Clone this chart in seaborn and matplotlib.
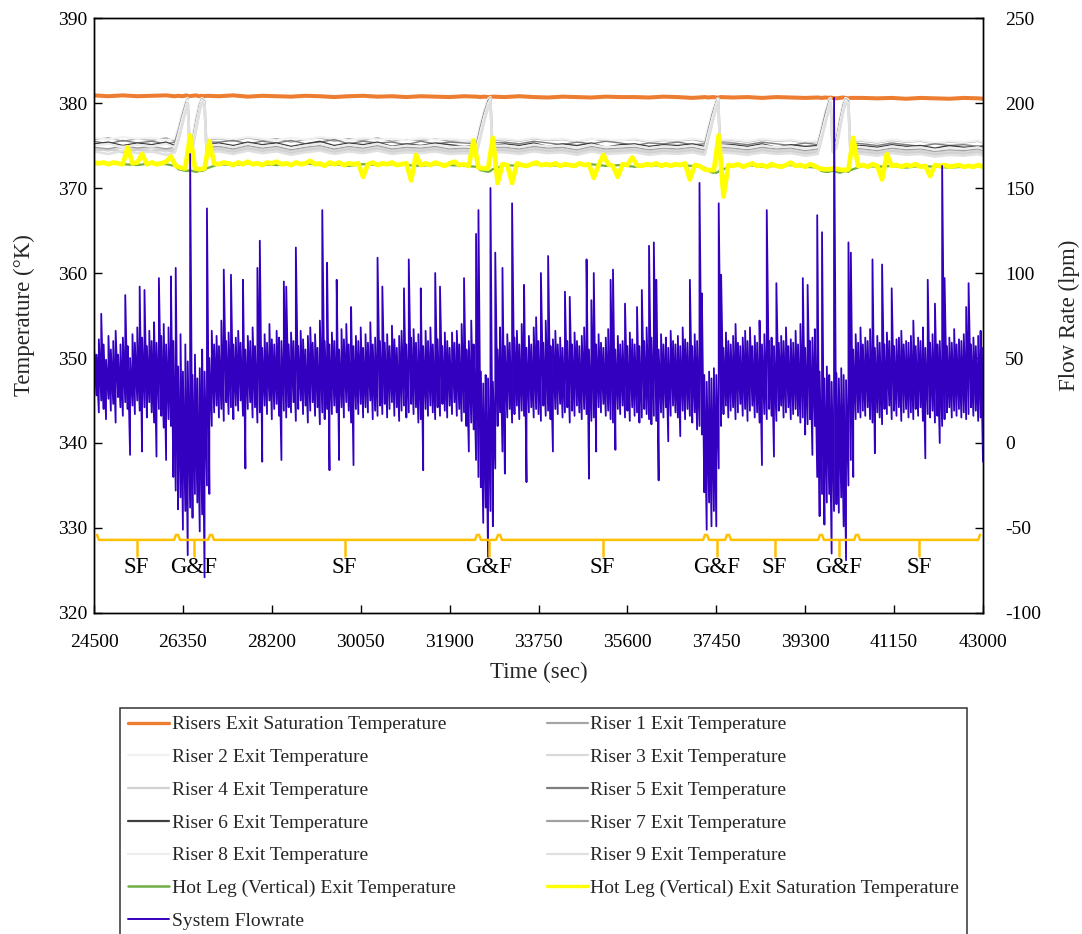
import numpy as np
import matplotlib
matplotlib.use("Agg")
import matplotlib.pyplot as plt
from matplotlib.lines import Line2D
import seaborn as sns

# ---------------------------------------------------------------- data
# sampling times (s)
t_flow = np.arange(24500, 43001, 50)
t_hotleg = np.arange(24500, 43001, 100)
t_temp = np.array([
    24500, 24800, 25100, 25400, 25700, 26000, 26180,
    26260, 26340, 26420, 26450, 26490, 26550, 26620, 26690, 26740, 26800, 26840,
    27100, 27400, 27700, 28000, 28300, 28600, 28900, 29200, 29500, 29800,
    30100, 30400, 30700, 31000, 31300, 31600, 31900, 32200, 32460,
    32540, 32620, 32700, 32750, 32790,
    33050, 33350, 33650, 33950, 34250, 34550, 34850, 35150, 35450, 35750,
    36050, 36350, 36650, 36950, 37210,
    37290, 37370, 37450, 37490, 37530,
    37800, 38100, 38400, 38700, 39000, 39300, 39560,
    39640, 39720, 39800, 39830, 39870, 39950, 40020, 40090, 40140, 40200, 40240,
    40500, 40800, 41100, 41400, 41700, 42000, 42300, 42600, 42900, 43000])

# system flow rate (lpm): highest and lowest reading in each 50 s window
flow_hi = [
    56, 52, 61, 76, 58, 49, 63, 55, 60, 66, 52, 58, 62, 87, 57, 50, 64, 59, 68, 92,
    62, 90, 57, 66, 60, 71, 59, 97, 63, 70, 58, 68, 98, 60, 103, 45, 64, 42, 58, 48,
    170, 40, 52, 38, 44, 55, 42, 138, 50, 66, 58, 63, 57, 72, 102, 60, 65, 99, 58, 62,
    66, 59, 96, 55, 63, 60, 68, 57, 103, 119, 56, 64, 59, 70, 61, 58, 66, 62, 60, 95,
    92, 58, 65, 60, 115, 57, 66, 61, 55, 63, 68, 59, 64, 56, 72, 137, 60, 106, 58, 65,
    60, 96, 55, 67, 61, 70, 58, 80, 57, 63, 60, 68, 56, 64, 59, 71, 58, 62, 109, 60,
    92, 59, 64, 57, 69, 61, 56, 63, 66, 91, 58, 108, 62, 67, 59, 64, 91, 57, 66, 60,
    68, 58, 100, 61, 92, 57, 65, 60, 56, 65, 59, 66, 58, 70, 97, 55, 60, 72, 58, 123,
    137, 42, 35, 40, 38, 150, 36, 112, 55, 68, 103, 57, 64, 59, 141, 62, 66, 58, 70, 93,
    56, 63, 58, 68, 74, 60, 100, 59, 72, 110, 57, 61, 66, 58, 62, 56, 89, 60, 86, 58,
    65, 60, 57, 63, 68, 108, 55, 84, 100, 58, 64, 59, 56, 62, 67, 96, 102, 55, 63, 58,
    60, 82, 57, 65, 61, 58, 80, 57, 90, 60, 68, 116, 62, 118, 96, 55, 64, 58, 62, 56,
    66, 60, 58, 63, 57, 68, 61, 59, 96, 57, 64, 60, 153, 88, 40, 36, 42, 38, 44, 40,
    141, 99, 56, 65, 60, 58, 63, 70, 59, 57, 62, 66, 60, 68, 57, 63, 59, 72, 58, 64,
    137, 60, 62, 57, 94, 59, 63, 60, 68, 57, 61, 59, 66, 58, 70, 97, 56, 93, 60, 62,
    67, 134, 42, 124, 38, 45, 40, 36, 203, 41, 38, 44, 40, 37, 118, 112, 55, 64, 59, 68,
    58, 62, 60, 67, 108, 56, 63, 59, 105, 58, 65, 60, 91, 57, 61, 62, 66, 58, 60, 59,
    63, 72, 57, 62, 60, 68, 56, 96, 59, 64, 82, 58, 60, 163, 97, 57, 62, 59, 67, 58,
    61, 60, 64, 80, 94, 58, 62, 57, 63, 66, 56]
flow_lo = [
    22, 28, 18, 25, 20, 14, 26, 19, 23, 12, 27, 21, 16, 24, 20, -7, 22, 17, 25, 19,
    -5, 21, 15, 24, 18, 12, -8, 20, 16, 9, -10, 14, 10, -20, -28, -39, -32, -51, -40, -66,
    -38, -44, -30, -35, -52, -42, -79, -25, -30, 10, 18, 22, 15, 20, 13, 24, 17, 21, 14, 22,
    19, 25, 16, -15, 20, 24, 15, 21, 12, 18, -11, 22, 17, 25, 14, 20, 23, 16, -10, 19,
    15, 21, 18, 24, 13, 20, 25, 17, 22, 12, 19, 24, 16, 21, 11, 18, 14, 20, -16, 17,
    22, 18, -10, 21, 15, 24, 19, 12, -13, 20, 17, 23, 15, 21, 18, 25, 14, 19, 16, 22,
    17, 23, 15, 20, 24, 16, 21, 13, 19, 22, 15, 18, 23, 17, 21, 12, 14, -16, 20, 16,
    22, 18, 14, 21, 16, 23, 19, 15, 22, 17, 24, 16, 20, 13, 18, 10, -5, 12, 8, -10,
    -20, -26, -47, -38, -67, -40, -49, -15, 10, 18, -5, -18, 15, 20, 12, 17, 22, 14, 19, 16,
    -23, 18, 21, 15, 20, 17, 13, 22, 16, 19, 14, -5, 20, 17, 23, 15, 18, 21, 12, 19,
    16, 22, 18, 14, 20, 17, -21, 13, 15, -5, 21, 18, 23, 16, 19, 14, 12, -4, 20, 17,
    22, 15, 19, 13, 21, 16, 18, 12, 15, 20, 17, 14, 11, 16, 13, -22, 18, 15, 21, 1,
    16, 22, 18, 15, 4, 19, 14, 20, 16, 12, 18, 8, 10, 5, -29, -51, -35, -49, -40, -49,
    -15, 10, 17, 22, 15, 19, 21, 14, 18, 23, 16, 20, 13, 19, 22, 15, 18, 12, -13, 17,
    14, 20, 16, -8, 13, 19, 22, 15, 18, 21, 14, 17, 20, 16, 12, 15, 5, 11, 14, -7,
    10, -20, -43, -30, -48, -35, -30, -65, -40, -36, -41, -32, -49, -69, -25, -10, -20, 14, 18, 15,
    19, 16, 21, 14, 12, -6, 18, 15, 11, 20, 17, 22, 14, 19, 16, 21, 13, 18, 20, 15,
    18, 14, 20, 16, 21, 13, -9, 17, 15, 19, 12, 16, 0, 10, 14, 18, 21, 15, 19, 16,
    20, 15, 18, 14, 17, 21, 16, 19, 13, 15, -11]

# hot leg (vertical) exit saturation temperature (K)
hotleg_sat = [
    373.0, 372.9, 373.0, 372.8, 373.0, 372.9, 372.8, 374.8, 372.9, 373.0,
    374.0, 372.8, 373.0, 372.8, 372.9, 373.1, 373.7, 372.6, 372.4, 372.3,
    376.2, 372.3, 372.2, 372.3, 375.5, 372.9, 372.8, 373.0, 372.9, 372.7,
    373.0, 372.8, 373.1, 372.8, 372.9, 372.7, 373.0, 372.9, 373.1, 372.8,
    372.9, 372.7, 373.0, 372.8, 372.9, 373.2, 372.8, 372.9, 372.6, 373.0,
    372.8, 373.0, 372.7, 372.9, 372.8, 372.9, 371.3, 372.8, 373.0, 372.7,
    372.9, 372.8, 373.0, 372.7, 372.8, 372.9, 370.9, 373.9, 372.7, 372.9,
    372.7, 373.0, 372.8, 372.6, 372.9, 373.1, 372.7, 372.8, 372.6, 375.6,
    372.4, 372.3, 372.3, 375.9, 370.6, 372.8, 372.7, 370.6, 372.9, 372.7,
    372.6, 372.8, 373.0, 372.7, 372.8, 372.7, 372.9, 372.6, 372.8, 372.7,
    372.6, 372.9, 372.7, 372.8, 371.2, 372.7, 373.9, 372.8, 372.6, 371.3,
    372.8, 372.7, 373.6, 372.7, 372.6, 372.8, 372.7, 372.9, 372.6, 372.8,
    372.6, 372.8, 372.7, 372.9, 371.0, 372.7, 372.6, 372.2, 372.1, 372.1,
    376.2, 369.0, 372.7, 372.6, 372.8, 372.5, 372.7, 372.9, 372.6, 372.7,
    372.5, 372.8, 372.6, 372.5, 372.7, 373.0, 372.6, 372.7, 372.5, 372.8,
    372.6, 372.3, 372.2, 372.2, 372.3, 372.2, 372.1, 372.2, 375.9, 372.6,
    372.7, 372.5, 372.8, 372.6, 371.0, 374.0, 372.6, 372.7, 372.5, 372.7,
    372.6, 372.8, 372.5, 372.6, 371.4, 372.7, 372.6, 372.7, 372.5, 372.6,
    372.7, 372.5, 372.6, 372.5, 372.7, 372.5]

# hot leg (vertical) exit temperature (K)
hotleg_exit = [
    372.8, 372.9, 372.8, 372.7, 372.9, 372.8, 372.6,
    372.2, 372.1, 372.0, 372.0, 372.1, 372.0, 371.9, 372.0, 372.0, 372.1, 372.3,
    372.8, 372.7, 372.9, 372.8, 372.7, 372.8, 372.9, 372.7, 372.8, 372.6,
    372.8, 372.7, 372.8, 372.7, 372.6, 372.8, 372.7, 372.6, 372.5,
    372.1, 372.0, 371.9, 372.0, 372.2,
    372.7, 372.6, 372.8, 372.7, 372.6, 372.7, 372.8, 372.6, 372.7, 372.5,
    372.7, 372.6, 372.7, 372.6, 372.4,
    372.0, 371.8, 371.8, 371.9, 372.1,
    372.6, 372.7, 372.5, 372.6, 372.7, 372.5, 372.4,
    372.0, 371.9, 371.9, 372.0, 372.0, 371.9, 371.8, 371.9, 372.0, 371.9, 372.1,
    372.6, 372.5, 372.6, 372.4, 372.6, 372.5, 372.4, 372.5, 372.6, 372.4]

# risers exit saturation temperature (K)
risers_sat = [
    380.9, 380.8, 380.9, 380.8, 380.85, 380.9, 380.8,
    380.85, 380.8, 380.9, 380.85, 380.8, 380.85, 380.9, 380.8, 380.85, 380.8, 380.85,
    380.8, 380.9, 380.75, 380.85, 380.8, 380.75, 380.85, 380.8, 380.7, 380.8,
    380.85, 380.75, 380.8, 380.7, 380.8, 380.75, 380.7, 380.8, 380.75,
    380.7, 380.75, 380.7, 380.7, 380.75,
    380.7, 380.8, 380.7, 380.65, 380.75, 380.7, 380.65, 380.75, 380.7, 380.7,
    380.65, 380.75, 380.7, 380.6, 380.7,
    380.65, 380.7, 380.65, 380.6, 380.7,
    380.65, 380.7, 380.6, 380.7, 380.65, 380.6, 380.65,
    380.6, 380.65, 380.6, 380.65, 380.6, 380.55, 380.6, 380.65, 380.6, 380.55, 380.6,
    380.6, 380.55, 380.6, 380.5, 380.6, 380.55, 380.5, 380.6, 380.55, 380.5]

# riser exit temperatures (K)
riser1 = [
    375.7, 375.9, 375.5, 375.8, 375.6, 375.9, 375.5,
    377.1, 378.9, 380.3, 380.6, 375.6, 376.0, 378.1, 379.9, 380.6, 380.3, 375.6,
    375.8, 375.5, 375.9, 375.6, 375.8, 375.4, 375.7, 375.9, 375.5, 375.8,
    375.6, 375.9, 375.5, 375.7, 375.6, 375.8, 375.5, 375.6, 375.5,
    377.4, 379.1, 380.4, 380.6, 375.6,
    375.7, 375.5, 375.8, 375.6, 375.7, 375.4, 375.8, 375.5, 375.6, 375.7,
    375.4, 375.6, 375.5, 375.7, 375.4,
    377.3, 379.0, 380.3, 380.6, 375.5,
    375.6, 375.4, 375.7, 375.5, 375.6, 375.3, 375.5,
    377.2, 379.0, 380.4, 380.6, 375.6, 376.1, 378.2, 380.0, 380.6, 380.3, 375.5,
    375.5, 375.3, 375.6, 375.4, 375.5, 375.2, 375.4, 375.3, 375.5, 375.3]
riser2 = [
    375.9, 375.7, 376.0, 375.8, 375.9, 375.6, 375.8,
    377.3, 379.1, 380.4, 380.6, 375.8, 376.2, 378.3, 380.0, 380.6, 380.4, 375.8,
    375.9, 375.7, 376.0, 375.8, 375.6, 375.9, 375.7, 376.0, 375.8, 375.6,
    375.9, 375.7, 375.8, 375.6, 375.9, 375.7, 375.8, 375.6, 375.7,
    377.5, 379.2, 380.5, 380.7, 375.8,
    375.8, 375.6, 375.9, 375.7, 375.8, 375.5, 375.8, 375.7, 375.6, 375.8,
    375.5, 375.7, 375.6, 375.8, 375.6,
    377.4, 379.1, 380.4, 380.6, 375.7,
    375.7, 375.5, 375.8, 375.6, 375.7, 375.4, 375.6,
    377.3, 379.1, 380.5, 380.6, 375.7, 376.2, 378.3, 380.1, 380.6, 380.4, 375.6,
    375.6, 375.4, 375.7, 375.5, 375.6, 375.3, 375.5, 375.4, 375.6, 375.4]
riser3 = [
    374.7, 374.4, 374.8, 374.5, 374.7, 374.3, 374.6,
    376.0, 377.9, 379.6, 380.2, 374.6, 375.0, 377.1, 379.1, 380.2, 379.9, 374.6,
    374.7, 374.4, 374.8, 374.5, 374.7, 374.3, 374.6, 374.8, 374.4, 374.7,
    374.5, 374.8, 374.4, 374.6, 374.5, 374.7, 374.4, 374.5, 374.4,
    376.3, 378.2, 379.8, 380.3, 374.6,
    374.6, 374.4, 374.7, 374.5, 374.6, 374.3, 374.7, 374.4, 374.5, 374.6,
    374.3, 374.5, 374.4, 374.6, 374.3,
    376.2, 378.1, 379.7, 380.3, 374.6,
    374.5, 374.3, 374.6, 374.4, 374.5, 374.2, 374.4,
    376.1, 378.0, 379.7, 380.2, 374.6, 375.1, 377.3, 379.2, 380.2, 379.8, 374.5,
    374.4, 374.2, 374.5, 374.3, 374.4, 374.1, 374.3, 374.2, 374.4, 374.2]
riser4 = [
    374.4, 374.6, 374.2, 374.5, 374.3, 374.6, 374.2,
    375.8, 377.7, 379.5, 380.1, 374.4, 374.8, 376.9, 379.0, 380.1, 379.8, 374.4,
    374.5, 374.2, 374.6, 374.3, 374.5, 374.1, 374.4, 374.6, 374.2, 374.5,
    374.3, 374.6, 374.2, 374.4, 374.3, 374.5, 374.2, 374.3, 374.2,
    376.1, 378.0, 379.7, 380.2, 374.4,
    374.4, 374.2, 374.5, 374.3, 374.4, 374.1, 374.5, 374.2, 374.3, 374.4,
    374.1, 374.3, 374.2, 374.4, 374.1,
    376.0, 377.9, 379.6, 380.2, 374.4,
    374.3, 374.1, 374.4, 374.2, 374.3, 374.0, 374.2,
    375.9, 377.8, 379.6, 380.1, 374.4, 374.9, 377.1, 379.1, 380.1, 379.7, 374.3,
    374.2, 374.0, 374.3, 374.1, 374.2, 373.9, 374.1, 374.0, 374.2, 374.0]
riser5 = [
    375.5, 375.2, 375.6, 375.3, 375.5, 375.2, 375.4,
    376.9, 378.7, 380.2, 380.5, 375.3, 375.7, 377.9, 379.7, 380.5, 380.2, 375.4,
    375.4, 375.6, 375.2, 375.5, 375.3, 375.6, 375.2, 375.4, 375.7, 375.2,
    375.5, 375.3, 375.4, 375.1, 375.5, 375.2, 375.4, 375.3, 375.2,
    377.2, 378.9, 380.3, 380.6, 375.3,
    375.4, 375.2, 375.5, 375.3, 375.1, 375.4, 375.2, 375.5, 375.3, 375.0,
    375.3, 375.2, 375.4, 375.1, 375.2,
    377.0, 378.8, 380.2, 380.6, 375.3,
    375.3, 375.1, 375.4, 375.2, 375.0, 375.3, 375.1,
    376.9, 378.8, 380.3, 380.5, 375.3, 375.8, 378.0, 379.8, 380.5, 380.2, 375.3,
    375.2, 375.0, 375.3, 375.1, 374.9, 375.2, 375.0, 375.1, 374.9, 375.0]
riser6 = [
    375.2, 375.4, 375.0, 375.3, 375.1, 375.4, 375.0,
    376.6, 378.4, 380.0, 380.4, 375.0, 375.4, 377.6, 379.5, 380.4, 380.1, 375.1,
    375.3, 375.0, 375.4, 375.1, 375.3, 374.9, 375.2, 375.5, 375.0, 375.3,
    375.1, 375.4, 374.9, 375.2, 375.0, 375.3, 375.1, 374.9, 375.0,
    376.9, 378.7, 380.1, 380.5, 375.0,
    375.2, 375.0, 375.3, 374.9, 375.2, 375.0, 375.3, 374.8, 375.1, 375.2,
    374.9, 375.1, 375.0, 375.2, 374.9,
    376.8, 378.6, 380.1, 380.5, 375.0,
    375.1, 374.9, 375.2, 374.8, 375.1, 374.9, 375.0,
    376.7, 378.5, 380.1, 380.4, 375.1, 375.6, 377.8, 379.6, 380.4, 380.0, 375.0,
    375.0, 374.8, 375.1, 374.9, 375.0, 374.7, 375.0, 374.8, 374.9, 374.8]
riser7 = [
    374.8, 374.6, 375.0, 374.7, 374.9, 374.6, 374.8,
    376.3, 378.1, 379.8, 380.3, 374.8, 375.2, 377.3, 379.3, 380.3, 380.0, 374.8,
    374.9, 374.6, 375.0, 374.7, 374.9, 374.5, 374.8, 375.0, 374.6, 374.9,
    374.7, 375.0, 374.6, 374.8, 374.7, 374.9, 374.6, 374.7, 374.6,
    376.6, 378.4, 379.9, 380.4, 374.8,
    374.8, 374.6, 374.9, 374.7, 374.8, 374.5, 374.9, 374.6, 374.7, 374.8,
    374.5, 374.7, 374.6, 374.8, 374.5,
    376.5, 378.3, 379.9, 380.4, 374.8,
    374.7, 374.5, 374.8, 374.6, 374.7, 374.4, 374.6,
    376.4, 378.2, 379.9, 380.3, 374.8, 375.3, 377.5, 379.4, 380.3, 379.9, 374.7,
    374.6, 374.4, 374.7, 374.5, 374.6, 374.3, 374.5, 374.4, 374.6, 374.4]
riser8 = [
    375.0, 375.2, 374.8, 375.1, 374.9, 375.2, 374.8,
    376.5, 378.3, 379.9, 380.4, 375.0, 375.3, 377.5, 379.4, 380.4, 380.1, 375.0,
    375.1, 374.8, 375.2, 374.9, 375.1, 374.7, 375.0, 375.2, 374.8, 375.1,
    374.9, 375.2, 374.8, 375.0, 374.9, 375.1, 374.8, 374.9, 374.8,
    376.7, 378.5, 380.0, 380.5, 375.0,
    375.0, 374.8, 375.1, 374.9, 375.0, 374.7, 375.1, 374.8, 374.9, 375.0,
    374.7, 374.9, 374.8, 375.0, 374.7,
    376.6, 378.4, 380.0, 380.5, 375.0,
    374.9, 374.7, 375.0, 374.8, 374.9, 374.6, 374.8,
    376.5, 378.3, 380.0, 380.4, 375.0, 375.4, 377.6, 379.5, 380.4, 380.0, 374.9,
    374.8, 374.6, 374.9, 374.7, 374.8, 374.5, 374.7, 374.6, 374.8, 374.6]
riser9 = [
    374.3, 374.0, 374.4, 374.1, 374.3, 373.9, 374.2,
    375.6, 377.5, 379.3, 380.0, 374.2, 374.6, 376.7, 378.8, 380.0, 379.7, 374.2,
    374.3, 374.0, 374.4, 374.1, 374.3, 373.9, 374.2, 374.4, 374.0, 374.3,
    374.1, 374.4, 374.0, 374.2, 374.1, 374.3, 374.0, 374.1, 374.0,
    375.9, 377.8, 379.5, 380.1, 374.2,
    374.2, 374.0, 374.3, 374.1, 374.2, 373.9, 374.3, 374.0, 374.1, 374.2,
    373.9, 374.1, 374.0, 374.2, 373.9,
    375.8, 377.7, 379.4, 380.1, 374.2,
    374.1, 373.9, 374.2, 374.0, 374.1, 373.8, 374.0,
    375.7, 377.6, 379.4, 380.0, 374.2, 374.7, 376.9, 378.9, 380.0, 379.6, 374.1,
    374.0, 373.8, 374.1, 373.9, 374.0, 373.7, 373.9, 373.8, 374.0, 373.8]

# operating periods: single-phase flow (SF) / geysering & flashing (G&F)
period_start = [24562, 26248, 26956, 32512, 32949, 37257, 37715, 39650, 40400]
period_end = [26206, 26914, 32470, 32907, 37215, 37673, 39609, 40358, 42938]
period_label = ["SF", "G&F", "SF", "G&F", "SF", "G&F", "SF", "G&F", "SF"]

riser_series = [riser1, riser2, riser3, riser4, riser5,
                riser6, riser7, riser8, riser9]
assert len(flow_hi) == len(t_flow) and len(flow_lo) == len(t_flow)
assert len(hotleg_sat) == len(t_hotleg)
for s in riser_series + [risers_sat, hotleg_exit]:
    assert len(s) == len(t_temp), len(s)

# flow trace: each window drawn as a stroke from its low to its high reading
flow_t = np.repeat(t_flow, 2)
flow_v = np.column_stack([flow_lo, flow_hi]).ravel()

# ---------------------------------------------------------------- style
sns.set_theme(style="ticks")
plt.rcParams["font.family"] = ["Liberation Serif", "DejaVu Serif"]
plt.rcParams["axes.edgecolor"] = "black"
plt.rcParams["axes.linewidth"] = 1.0
plt.rcParams["axes.unicode_minus"] = False

fig = plt.figure(figsize=(10.82, 9.34), dpi=100)
ax1 = fig.add_axes([0.0869, 0.3437, 0.8216, 0.6370])
ax2 = ax1.twinx()

c_sat = "#ED7D31"
riser_colors = ["#A6A6A6", "#F2F2F2", "#D9D9D9", "#D0D0D0", "#7F7F7F",
                "#404040", "#A0A0A0", "#EDEDED", "#E0E0E0"]
riser_widths = [1.0, 1.6, 1.8, 1.8, 1.0, 1.0, 1.0, 1.6, 1.8]
c_hl_exit = "#70AD47"
c_hl_sat = "#FFFF00"
c_flow = "#3300C0"
c_period = "#FFC000"

line_kw = dict(estimator=None, errorbar=None, sort=False, legend=False)

sns.lineplot(x=t_temp, y=risers_sat, ax=ax1, color=c_sat, linewidth=2.9, **line_kw)
for vals, col, lw in zip(riser_series, riser_colors, riser_widths):
    sns.lineplot(x=t_temp, y=vals, ax=ax1, color=col, linewidth=lw, **line_kw)
sns.lineplot(x=t_temp, y=hotleg_exit, ax=ax1, color=c_hl_exit, linewidth=1.6, **line_kw)
sns.lineplot(x=t_hotleg, y=hotleg_sat, ax=ax1, color=c_hl_sat, linewidth=3.4, **line_kw)
sns.lineplot(x=flow_t, y=flow_v, ax=ax2, color=c_flow, linewidth=1.3, **line_kw)

# period braces along the bottom of the plot (temperature units)
base, tip, stem, ytxt, curl = 328.6, 329.2, 326.7, 325.3, 40
for s, e, lab in zip(period_start, period_end, period_label):
    mid = 0.5 * (s + e)
    ax2.plot([s, s + curl, e - curl, e], [tip, base, base, tip],
             color=c_period, lw=1.8, transform=ax1.transData, zorder=5,
             solid_joinstyle="round")
    ax2.plot([mid, mid], [base, stem], color=c_period, lw=1.8,
             transform=ax1.transData, zorder=5)
    ax2.text(mid, ytxt, lab, transform=ax1.transData, ha="center",
             va="center", fontsize=16.5, color="black", zorder=6)

# axes
ax1.set_xlim(24500, 43000)
ax1.set_ylim(320, 390)
ax2.set_ylim(-100, 250)
ax1.set_xticks(np.arange(24500, 43001, 1850))
ax1.set_yticks(np.arange(320, 391, 10))
ax2.set_yticks(np.arange(-100, 251, 50))
ax1.tick_params(axis="both", direction="in", length=6, width=1,
                labelsize=14, colors="black", bottom=True, left=True,
                top=False, right=False)
ax1.tick_params(axis="x", pad=15)
ax1.tick_params(axis="y", pad=5)
ax2.tick_params(axis="y", direction="in", length=6, width=1,
                labelsize=14, colors="black", right=True, pad=16)
ax1.set_xlabel("Time (sec)", fontsize=16.5, labelpad=8)
ax1.set_ylabel("Temperature (\u00b0K)", fontsize=16.5, labelpad=16)
ax2.set_ylabel("Flow Rate (lpm)", fontsize=16.5, labelpad=13)
for sp in ax2.spines.values():
    sp.set_color("black")

# legend: two columns, filled row by row
names = ["Risers Exit Saturation Temperature"] + \
        [f"Riser {i} Exit Temperature" for i in range(1, 10)] + \
        ["Hot Leg (Vertical) Exit Temperature",
         "Hot Leg (Vertical) Exit Saturation Temperature",
         "System Flowrate"]
colors = [c_sat] + riser_colors + [c_hl_exit, c_hl_sat, c_flow]
widths = [2.4] + [1.6] * 9 + [1.8, 2.4, 1.4]
handles = [Line2D([], [], color=c, lw=w) for c, w in zip(colors, widths)]
order = [0, 2, 4, 6, 8, 10, 12, 1, 3, 5, 7, 9, 11]
leg = fig.legend([handles[i] for i in order], [names[i] for i in order],
                 loc="upper left", bbox_to_anchor=(120 / 1082, 1 - 708 / 934),
                 ncol=2, frameon=True, fancybox=False, edgecolor="black",
                 fontsize=14, handlelength=2.1, handletextpad=0.15,
                 columnspacing=4.7, labelspacing=0.78, borderpad=0.4,
                 borderaxespad=0)
leg.get_frame().set_linewidth(1.1)

fig.savefig("out.png", dpi=100)
